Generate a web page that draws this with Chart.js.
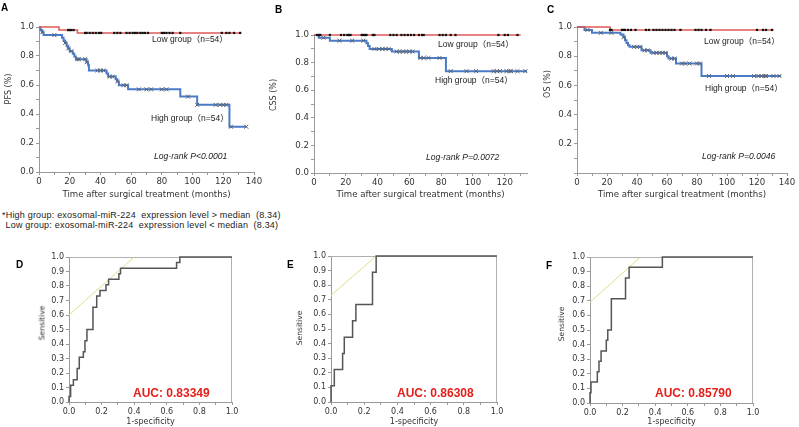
<!DOCTYPE html>
<html>
<head>
<meta charset="utf-8">
<script src="https://cdn.jsdelivr.net/npm/chart.js@4.4.1/dist/chart.umd.min.js"></script>
<style>
    body { margin: 0; background: #fff; }
    #fig { position: relative; width: 799px; height: 427px; overflow: hidden; background: #fff; }
    #fig canvas { position: absolute; }
    .txt { position: absolute; white-space: nowrap; transform: translateY(-50%); color: #222; line-height: 1; }
    .letter { font: bold 10px "Liberation Sans", Arial, sans-serif; color: #000; }
    .grp { font: 8.5px "Liberation Sans", Arial, "Noto Sans CJK JP", sans-serif; }
    .lr { font: italic 8.6px "Liberation Sans", Arial, sans-serif; }
    .auc { font: bold 12px "Liberation Sans", Arial, sans-serif; color: #e3201b; }
    .note { font: 9px "Liberation Sans", Arial, sans-serif; letter-spacing: 0.2px; }
    .ytitle { position: absolute; white-space: nowrap; line-height: 1; color: #333;
              transform: translate(-50%, -50%) rotate(-90deg); }
</style>
</head>
<body>
<div id="fig">
    <canvas id="chart-a" width="265" height="200" style="left:0;top:0"></canvas>
    <canvas id="chart-b" width="270" height="200" style="left:262px;top:0"></canvas>
    <canvas id="chart-c" width="267" height="200" style="left:532px;top:0"></canvas>
    <canvas id="chart-d" width="262" height="195" style="left:0;top:232px"></canvas>
    <canvas id="chart-e" width="262" height="195" style="left:270px;top:232px"></canvas>
    <canvas id="chart-f" width="267" height="195" style="left:532px;top:232px"></canvas>

    <div class="txt letter" style="left:1px;top:7px">A</div>
    <div class="txt letter" style="left:275px;top:9px">B</div>
    <div class="txt letter" style="left:547px;top:8.5px">C</div>
    <div class="txt letter" style="left:16px;top:264px">D</div>
    <div class="txt letter" style="left:287px;top:264px">E</div>
    <div class="txt letter" style="left:546px;top:265px">F</div>

    <div class="ytitle" style="left:8px;top:89px;font:8px 'DejaVu Sans',sans-serif">PFS (%)</div>
    <div class="ytitle" style="left:273px;top:95px;font:8px 'DejaVu Sans',sans-serif">CSS (%)</div>
    <div class="ytitle" style="left:547px;top:84px;font:8px 'DejaVu Sans',sans-serif">OS (%)</div>
    <div class="ytitle" style="left:42px;top:323px;font:7.6px 'DejaVu Sans',sans-serif">Sensitive</div>
    <div class="ytitle" style="left:299px;top:328px;font:7.6px 'DejaVu Sans',sans-serif">Sensitive</div>
    <div class="ytitle" style="left:561px;top:324px;font:7.6px 'DejaVu Sans',sans-serif">Sensitive</div>

    <div class="txt grp" style="left:152px;top:38px">Low group（n=54）</div>
    <div class="txt grp" style="left:151px;top:117px">High group（n=54）</div>
    <div class="txt lr" style="left:154px;top:156px">Log-rank P&lt;0.0001</div>

    <div class="txt grp" style="left:438px;top:43px">Low group（n=54）</div>
    <div class="txt grp" style="left:435px;top:79px">High group（n=54）</div>
    <div class="txt lr" style="left:426px;top:157px">Log-rank P=0.0072</div>

    <div class="txt grp" style="left:704px;top:40px">Low group（n=54）</div>
    <div class="txt grp" style="left:705px;top:87px">High group（n=54）</div>
    <div class="txt lr" style="left:702px;top:156px">Log-rank P=0.0046</div>

    <div class="txt note" style="left:2px;top:215px">*High group: exosomal-miR-224&nbsp; expression level &gt; median&nbsp; (8.34)</div>
    <div class="txt note" style="left:5.5px;top:224.5px">Low group: exosomal-miR-224&nbsp; expression level &lt; median&nbsp; (8.34)</div>

    <div class="txt auc" style="left:133px;top:393px">AUC: 0.83349</div>
    <div class="txt auc" style="left:397px;top:393px">AUC: 0.86308</div>
    <div class="txt auc" style="left:655px;top:393px">AUC: 0.85790</div>
</div>

<script>
// ========================================
// KAPLAN-MEIER (A-C) + ROC (D-F)
// ========================================

// --- A: PFS ---
const pfsHighT = [0, 1, 2, 3, 15, 16, 17, 18, 19, 20, 22, 23, 24, 31, 32, 32.5, 44, 45, 50, 51, 52, 58, 92, 103, 124, 135];
const pfsHighS = [1, 0.98, 0.963, 0.944, 0.926, 0.907, 0.889, 0.87, 0.852, 0.833, 0.815, 0.796, 0.778, 0.757, 0.736, 0.70, 0.68, 0.658, 0.64, 0.625, 0.598, 0.57, 0.52, 0.463, 0.312, 0.312];
const pfsHighCens = [2, 10, 17, 19, 21, 25, 26, 30, 31, 38, 40, 42, 46, 48, 51, 55, 57, 65, 70, 73, 80, 83, 97, 103, 115, 118, 120, 122, 125, 135];
const pfsLowT = [0, 13, 25, 131];
const pfsLowS = [1, 0.979, 0.959, 0.959];
const pfsLowCens = [19, 20, 21, 22.5, 30, 31, 33, 35, 37, 39, 40.5, 49, 51, 53, 57, 59, 61, 62.5, 64, 66, 67.5, 69, 71, 80, 81.5, 83, 85, 87, 92, 119, 122, 124, 127, 131];

// --- B: CSS ---
const cssHighT = [0, 3, 10, 33, 34, 35, 49, 66, 83, 134];
const cssHighS = [1, 0.98, 0.959, 0.94, 0.92, 0.899, 0.88, 0.834, 0.738, 0.738];
const cssHighCens = [6, 16, 24, 31, 38, 41, 43, 45, 47, 52, 54, 56, 58, 60, 62, 67, 69, 72, 79, 86, 96, 102, 113, 115, 117, 121, 123, 124, 128, 133];
const cssLowT = [0, 130];
const cssLowS = [1, 1];
const cssLowCens = [2, 3, 4, 10, 17, 19, 21, 22, 23, 30, 31, 32, 33, 37, 38, 48, 50, 52, 55, 57, 59, 61, 63, 66, 68, 69, 79, 81, 83, 86, 89, 116, 120, 122, 128];

// --- C: OS ---
const osHighT = [0, 5, 10, 29, 31, 32, 33, 34, 35, 43, 49, 60, 61, 66, 83, 136];
const osHighS = [1, 0.98, 0.96, 0.948, 0.93, 0.91, 0.89, 0.875, 0.864, 0.84, 0.823, 0.80, 0.784, 0.75, 0.664, 0.664];
const osHighCens = [7, 16, 23, 31, 38, 40, 42, 45, 47, 51, 53, 55, 57, 59, 63, 65, 70, 72, 75, 80, 82, 88, 100, 104, 118, 121, 123, 125, 126, 131, 135];
const osLowT = [0, 22, 131];
const osLowS = [1, 0.98, 0.98];
const osLowCens = [22, 23, 30, 31, 32, 34, 36, 39, 46, 48, 51, 53, 55, 57, 59, 61, 63, 65, 69, 79, 81, 83, 86, 89, 120, 124, 126, 130];

// --- D-F: ROC (1-specificity, sensitivity) ---
const rocDFpr = [0, 0, 0.01, 0.027, 0.05, 0.063, 0.088, 0.098, 0.11, 0.147, 0.17, 0.19, 0.227, 0.243, 0.306, 0.316, 0.66, 0.68, 1.0];
const rocDTpr = [0, 0.038, 0.115, 0.154, 0.231, 0.308, 0.346, 0.423, 0.5, 0.654, 0.731, 0.769, 0.808, 0.846, 0.885, 0.923, 0.962, 1.0, 1.0];
const rocDTangent = [[0, 0.6], [0.4, 1.0]];

const rocEFpr = [0, 0, 0.02, 0.07, 0.08, 0.13, 0.15, 0.25, 0.272, 1.0];
const rocETpr = [0, 0.111, 0.222, 0.333, 0.444, 0.556, 0.667, 0.889, 1.0, 1.0];
const rocETangent = [[0, 0.73], [0.272, 1.0]];

const rocFFpr = [0, 0, 0.006, 0.045, 0.055, 0.068, 0.10, 0.109, 0.131, 0.218, 0.24, 0.444, 1.0];
const rocFTpr = [0, 0.071, 0.143, 0.214, 0.286, 0.357, 0.429, 0.5, 0.714, 0.857, 0.929, 1.0, 1.0];
const rocFTangent = [[0, 0.69], [0.31, 1.0]];

const kmXTicks = [0, 20, 40, 60, 80, 100, 120, 140];

const BLUE = '#4a7bc6';
const RED = '#df5a5a';
const AXIS = '#9a9a9a';
const TICK_FONT = { family: "'DejaVu Sans', sans-serif", size: 8.6 };

// step value of a survival curve at time t
function levelAt(ts, ss, t) {
    let s = ss[0];
    for (let i = 0; i < ts.length; i++) {
        if (ts[i] <= t) s = ss[i];
    }
    return s;
}

function toPoints(xs, ys) {
    return xs.map((x, i) => ({ x, y: ys[i] }));
}

function fixSize(size) {
    return (scale) => {
        if (scale.isHorizontal()) scale.height = size;
        else scale.width = size;
    };
}

function axisStyle() {
    return {
        grid: { display: true, drawOnChartArea: false, drawTicks: true, tickLength: 3, color: AXIS },
        border: { display: true, color: AXIS },
    };
}

const framePlugin = {
    id: 'frame',
    beforeDatasetsDraw(chart) {
        if (!chart.options.plugins.frame || !chart.options.plugins.frame.show) return;
        const { ctx, chartArea: a } = chart;
        ctx.save();
        ctx.strokeStyle = '#b0b0b0';
        ctx.lineWidth = 1;
        ctx.beginPath();
        ctx.moveTo(a.left, a.top + 0.5);
        ctx.lineTo(a.right - 0.5, a.top + 0.5);
        ctx.lineTo(a.right - 0.5, a.bottom);
        ctx.stroke();
        ctx.restore();
    }
};

// --- KM chart ---
function kmChart(id, c) {
    const high = toPoints(c.highT, c.highS);
    const low = toPoints(c.lowT, c.lowS);
    const highCens = c.highCens.map(t => ({ x: t, y: levelAt(c.highT, c.highS, t) }));
    const lowCens = c.lowCens.map(t => ({ x: t, y: levelAt(c.lowT, c.lowS, t) }));

    new Chart(document.getElementById(id), {
        type: 'scatter',
        data: {
            datasets: [
                { data: lowCens, pointStyle: 'rect', pointRadius: 1.6, backgroundColor: '#111', borderColor: '#111', borderWidth: 0, clip: false, order: 0 },
                { data: highCens, pointStyle: 'crossRot', pointRadius: 2.8, borderColor: '#5a6170', borderWidth: 1, clip: false, order: 0 },
                { data: low, showLine: true, stepped: true, borderColor: RED, borderWidth: 1.5, pointRadius: 0, clip: false, order: 1 },
                { data: high, showLine: true, stepped: true, borderColor: BLUE, borderWidth: 2, pointRadius: 0, clip: false, order: 1 },
            ]
        },
        options: {
            responsive: false,
            animation: false,
            devicePixelRatio: 1,
            layout: { padding: { left: 0, top: c.top, right: c.right, bottom: 0 } },
            plugins: { legend: { display: false }, tooltip: { enabled: false } },
            scales: {
                x: {
                    type: 'linear', min: 0, max: c.xMax,
                    ...axisStyle(),
                    afterFit: fixSize(c.xH),
                    ticks: {
                        stepSize: 10, includeBounds: false, maxRotation: 0, autoSkip: false,
                        padding: 2, color: '#333', font: TICK_FONT,
                        callback: v => kmXTicks.includes(v) ? String(v) : ''
                    },
                    title: { display: true, text: 'Time after surgical treatment (months)', color: '#333', font: TICK_FONT, padding: { top: 0, bottom: 0 } },
                },
                y: {
                    min: 0, max: 1,
                    ...axisStyle(),
                    afterFit: fixSize(c.yW),
                    ticks: {
                        stepSize: 0.1, includeBounds: false, autoSkip: false, padding: 2, color: '#333', font: TICK_FONT,
                        callback: v => {
                            const k = Math.round(v * 10);
                            if (k % 2 !== 0) return '';
                            if (k === 0 && c.hideZero) return '';
                            return (k / 10).toFixed(1);
                        }
                    }
                }
            }
        }
    });
}

// --- ROC chart ---
function rocChart(id, c) {
    new Chart(document.getElementById(id), {
        type: 'scatter',
        plugins: [framePlugin],
        data: {
            datasets: [
                { data: toPoints(c.fpr, c.tpr), showLine: true, stepped: true, borderColor: '#555', borderWidth: 1.5, pointRadius: 0, clip: false },
                { data: c.tangent.map(p => ({ x: p[0], y: p[1] })), showLine: true, borderColor: '#e2dc88', borderWidth: 1, pointRadius: 0, clip: false },
            ]
        },
        options: {
            responsive: false,
            animation: false,
            devicePixelRatio: 1,
            layout: { padding: { left: 0, top: c.top, right: c.right, bottom: 0 } },
            plugins: { legend: { display: false }, tooltip: { enabled: false }, frame: { show: true } },
            scales: {
                x: {
                    type: 'linear', min: 0, max: 1,
                    ...axisStyle(),
                    afterFit: fixSize(c.xH),
                    ticks: {
                        stepSize: 0.1, includeBounds: false, maxRotation: 0, autoSkip: false,
                        padding: 2, color: '#333', font: { family: TICK_FONT.family, size: 8 },
                        callback: v => {
                            const k = Math.round(v * 10);
                            return k % 2 === 0 ? (k / 10).toFixed(1) : '';
                        }
                    },
                    title: { display: true, text: '1-specificity', color: '#333', font: { family: TICK_FONT.family, size: 8 }, padding: { top: 0, bottom: 0 } },
                },
                y: {
                    min: 0, max: 1,
                    ...axisStyle(),
                    afterFit: fixSize(c.yW),
                    ticks: {
                        stepSize: 0.1, includeBounds: false, autoSkip: false, padding: 2, color: '#333',
                        font: { family: TICK_FONT.family, size: 8 },
                        callback: v => (Math.round(v * 10) / 10).toFixed(1)
                    }
                }
            }
        }
    });
}

document.addEventListener('DOMContentLoaded', () => {
    kmChart('chart-a', { highT: pfsHighT, highS: pfsHighS, highCens: pfsHighCens, lowT: pfsLowT, lowS: pfsLowS, lowCens: pfsLowCens,
        xMax: 140, top: 27, right: 11, yW: 39, xH: 28 });
    kmChart('chart-b', { highT: cssHighT, highS: cssHighS, highCens: cssHighCens, lowT: cssLowT, lowS: cssLowS, lowCens: cssLowCens,
        xMax: 134, top: 35, right: 4, yW: 52, xH: 27 });
    kmChart('chart-c', { highT: osHighT, highS: osHighS, highCens: osHighCens, lowT: osLowT, lowS: osLowS, lowCens: osLowCens,
        xMax: 140, top: 27, right: 12, yW: 45, xH: 27, hideZero: true });

    rocChart('chart-d', { fpr: rocDFpr, tpr: rocDTpr, tangent: rocDTangent, top: 25, right: 30, yW: 69, xH: 25 });
    rocChart('chart-e', { fpr: rocEFpr, tpr: rocETpr, tangent: rocETangent, top: 24, right: 35, yW: 61, xH: 25 });
    rocChart('chart-f', { fpr: rocFFpr, tpr: rocFTpr, tangent: rocFTangent, top: 25, right: 46, yW: 58, xH: 24 });
});
</script>
</body>
</html>
